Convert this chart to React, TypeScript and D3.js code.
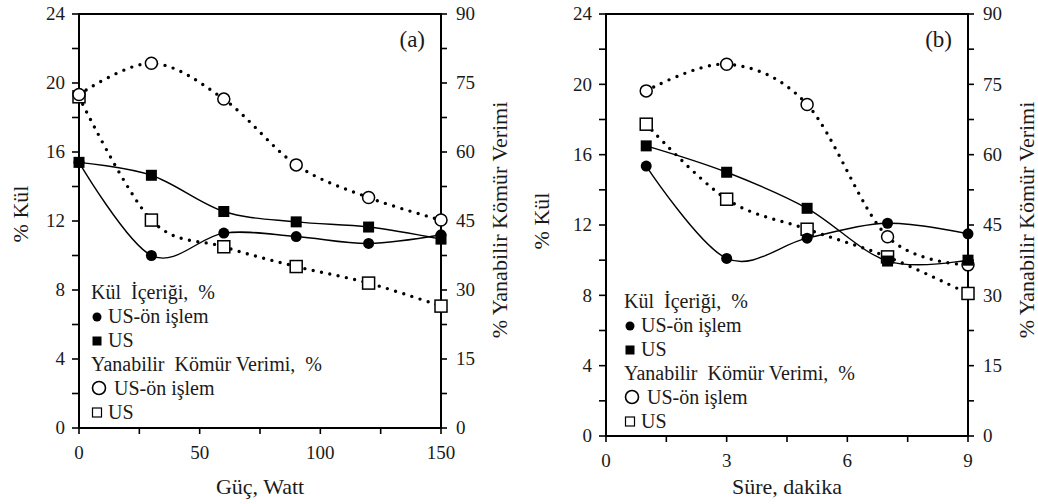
import * as d3 from "d3";

// panel (a): power
const powerW = [0, 30, 60, 90, 120, 150];
const ashPreA = [15.4, 10.0, 11.3, 11.1, 10.7, 11.2];
const ashUsA = [15.4, 14.65, 12.55, 11.95, 11.65, 10.95];
const yieldPreA = [72.5, 79.3, 71.5, 57.2, 50.1, 45.2];
const yieldUsA = [72.0, 45.2, 39.4, 35.1, 31.5, 26.5];

// panel (b): time
const timeMin = [1, 3, 5, 7, 9];
const ashPreB = [15.35, 10.1, 11.25, 12.1, 11.5];
const ashUsB = [16.5, 15.0, 12.95, 9.95, 10.0];
const yieldPreB = [73.6, 79.3, 70.7, 42.5, 36.5];
const yieldUsB = [66.5, 50.5, 44.1, 38.2, 30.4];

const ashTicks = [0, 4, 8, 12, 16, 20, 24];
const yieldTicks = [0, 15, 30, 45, 60, 75, 90];
const powerTicks = [0, 50, 100, 150];
const timeTicks = [0, 3, 6, 9];

const legendLabels = [
  "Kül  İçeriği,  %",
  "US-ön işlem",
  "US",
  "Yanabilir  Kömür Verimi,  %",
  "US-ön işlem",
  "US",
];

const FONT = '"Liberation Serif", Tinos, "Times New Roman", Times';
const INK = "#1a1a1a";

type PanelProps = {
  xs: number[];
  ashPre: number[];
  ashUs: number[];
  yPre: number[];
  yUs: number[];
  xMax: number;
  xTicks: number[];
  xMinorStep: number;
  left: number;
  right: number;
  top: number;
  bottom: number;
  tag: string;
  xTitle: string;
  legendX: number;
  legendY: number;
  kulX: number;
  kulY: number;
  rtX: number;
  rtY: number;
};

function Panel(c: PanelProps) {
  const x = d3.scaleLinear().domain([0, c.xMax]).range([c.left, c.right]);
  const yL = d3.scaleLinear().domain([0, 24]).range([c.bottom, c.top]);
  const yR = d3.scaleLinear().domain([0, 90]).range([c.bottom, c.top]);

  const curve = d3.curveCardinal.tension(0);
  const lineL = d3.line<[number, number]>().x(d => x(d[0])).y(d => yL(d[1])).curve(curve);
  const lineR = d3.line<[number, number]>().x(d => x(d[0])).y(d => yR(d[1])).curve(curve);
  const pts = (v: number[]) => c.xs.map((xx, i) => [xx, v[i]] as [number, number]);

  const leftMinor = d3.range(0, 25, 2);
  const rightMinor = d3.range(0, 91, 7.5);
  const bottomMinor = d3.range(0, c.xMax + 0.01, c.xMinorStep);

  return (
    <g>
      {/* frame */}
      <rect x={c.left} y={c.top} width={c.right - c.left} height={c.bottom - c.top}
        fill="none" stroke="#000" strokeWidth={2} />

      {/* left axis */}
      {leftMinor.map(v => (
        <line key={"l" + v} x1={c.left - 7} x2={c.left} y1={yL(v)} y2={yL(v)} stroke="#000" strokeWidth={1.6} />
      ))}
      {ashTicks.map(v => (
        <text key={"lt" + v} x={c.left - 14} y={yL(v)} dy="0.34em" textAnchor="end"
          style={{ fontFamily: FONT, fontSize: 19 }} fill={INK}>{v}</text>
      ))}

      {/* right axis */}
      {rightMinor.map(v => (
        <line key={"r" + v} x1={c.right} x2={c.right + 6} y1={yR(v)} y2={yR(v)} stroke="#000" strokeWidth={1.6} />
      ))}
      {yieldTicks.map(v => (
        <text key={"rt" + v} x={c.right + 15} y={yR(v)} dy="0.34em" textAnchor="start"
          style={{ fontFamily: FONT, fontSize: 19 }} fill={INK}>{v}</text>
      ))}

      {/* bottom axis */}
      {bottomMinor.map(v => (
        <line key={"b" + v} x1={x(v)} x2={x(v)} y1={c.bottom} y2={c.bottom + 6} stroke="#000" strokeWidth={1.6} />
      ))}
      {c.xTicks.map(v => (
        <text key={"bt" + v} x={x(v)} y={c.bottom + 31} textAnchor="middle"
          style={{ fontFamily: FONT, fontSize: 19 }} fill={INK}>{v}</text>
      ))}

      {/* dotted yield lines */}
      {[c.yPre, c.yUs].map((v, i) => (
        <path key={"yl" + i} d={lineR(pts(v)) || ""} fill="none" stroke="#000" strokeWidth={3.4}
          strokeLinecap="round" strokeDasharray="0 8.5" />
      ))}
      {/* solid ash lines */}
      {[c.ashPre, c.ashUs].map((v, i) => (
        <path key={"al" + i} d={lineL(pts(v)) || ""} fill="none" stroke="#000" strokeWidth={1.4} />
      ))}

      {/* markers */}
      {pts(c.yUs).map((d, i) => (
        <rect key={"ys" + i} x={x(d[0]) - 6} y={yR(d[1]) - 6} width={12} height={12}
          fill="#fff" stroke="#000" strokeWidth={1.5} />
      ))}
      {pts(c.yPre).map((d, i) => (
        <circle key={"yc" + i} cx={x(d[0])} cy={yR(d[1])} r={6} fill="#fff" stroke="#000" strokeWidth={1.5} />
      ))}
      {pts(c.ashUs).map((d, i) => (
        <rect key={"as" + i} x={x(d[0]) - 5.5} y={yL(d[1]) - 5.5} width={11} height={11} fill="#000" />
      ))}
      {pts(c.ashPre).map((d, i) => (
        <circle key={"ac" + i} cx={x(d[0])} cy={yL(d[1])} r={5.5} fill="#000" />
      ))}

      {/* panel tag */}
      <text x={c.right - 16} y={c.top + 33} textAnchor="end" style={{ fontFamily: FONT, fontSize: 23 }} fill={INK}>
        {c.tag}
      </text>

      {/* axis titles */}
      <text x={(c.left + c.right) / 2} y={494} textAnchor="middle" style={{ fontFamily: FONT, fontSize: 22 }} fill={INK}>
        {c.xTitle}
      </text>
      <text transform={`translate(${c.kulX},${c.kulY}) rotate(-90)`} textAnchor="middle"
        style={{ fontFamily: FONT, fontSize: 22 }} fill={INK}>% Kül</text>
      <text transform={`translate(${c.rtX},${c.rtY}) rotate(-90)`} textAnchor="middle"
        style={{ fontFamily: FONT, fontSize: 22 }} fill={INK}>% Yanabilir Kömür Verimi</text>

      {/* legend */}
      {legendLabels.map((t, i) => {
        const by = c.legendY + i * 24;
        const lx = c.legendX;
        let tx = lx;
        let marker = null;
        if (i === 1) {
          marker = <circle cx={lx + 6} cy={by - 6} r={4.5} fill="#000" />;
          tx = lx + 17;
        } else if (i === 2) {
          marker = <rect x={lx + 1.5} y={by - 10.5} width={9} height={9} fill="#000" />;
          tx = lx + 17;
        } else if (i === 4) {
          marker = <circle cx={lx + 8} cy={by - 7} r={6.5} fill="#fff" stroke="#000" strokeWidth={1.6} />;
          tx = lx + 23;
        } else if (i === 5) {
          marker = <rect x={lx + 1.5} y={by - 11} width={9} height={9} fill="#fff" stroke="#000" strokeWidth={1.2} />;
          tx = lx + 17;
        }
        return (
          <g key={"lg" + i}>
            {marker}
            <text x={tx} y={by} style={{ fontFamily: FONT, fontSize: 20, whiteSpace: "pre" }} fill={INK}>{t}</text>
          </g>
        );
      })}
    </g>
  );
}

export default function App() {
  return (
    <svg width={1038} height={504} fontFamily="Liberation Serif"
      style={{ position: "absolute", left: 0, top: 0, background: "#fff" }}>
      <Panel xs={powerW} ashPre={ashPreA} ashUs={ashUsA} yPre={yieldPreA} yUs={yieldUsA}
        xMax={150} xTicks={powerTicks} xMinorStep={25}
        left={79} right={441} top={14} bottom={428}
        tag="(a)" xTitle="Güç, Watt" legendX={91} legendY={299}
        kulX={28} kulY={214} rtX={507} rtY={220} />
      <Panel xs={timeMin} ashPre={ashPreB} ashUs={ashUsB} yPre={yieldPreB} yUs={yieldUsB}
        xMax={9} xTicks={timeTicks} xMinorStep={1.5}
        left={606} right={968} top={14} bottom={436}
        tag="(b)" xTitle="Süre, dakika" legendX={624} legendY={308}
        kulX={549} kulY={221} rtX={1034} rtY={220} />
    </svg>
  );
}
